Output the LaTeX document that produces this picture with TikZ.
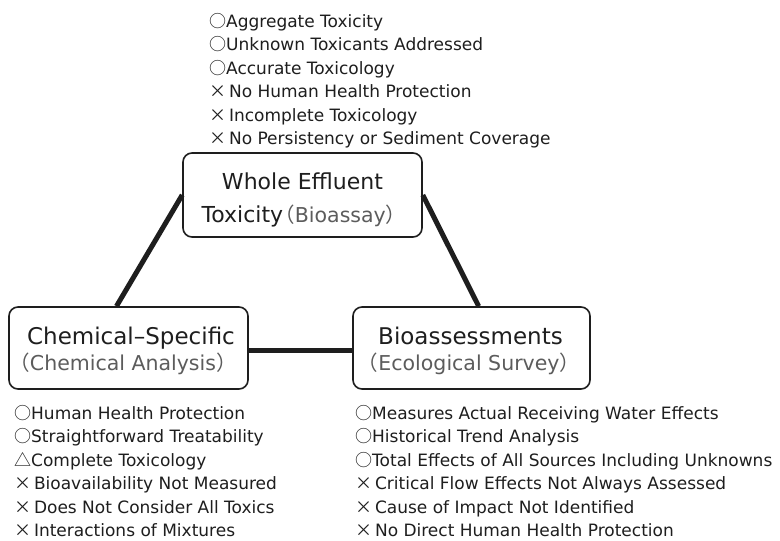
\documentclass[tikz,border=0pt]{standalone}
\usepackage{fontspec}
\setmainfont{DejaVu Sans}
\newfontfamily\cjk{Noto Sans CJK JP}
\usetikzlibrary{calc}
\definecolor{ink}{HTML}{1E1E1E}
\definecolor{subink}{HTML}{5C5C5C}
\newcommand{\markyes}{{\cjk ○}}
\newcommand{\markno}{{\cjk ×}\,}
\newcommand{\markpart}{{\cjk △}}
\newcommand{\lparen}{{\cjk （}}
\newcommand{\rparen}{{\cjk ）}}
\tikzset{
  box/.style={draw=ink, line width=1.6pt, rounded corners=9pt, inner sep=0pt},
  title/.style={anchor=base, inner sep=0pt, text=ink, font=\fontsize{23}{23}\selectfont},
  subtitle/.style={anchor=base, inner sep=0pt, text=subink, font=\fontsize{20.5}{20.5}\selectfont},
  link/.style={draw=ink, line width=5pt},
  item/.style={anchor=base west, inner sep=0pt, text=ink,
    font=\fontsize{17}{17}\selectfont},
}
\begin{document}
\begin{tikzpicture}[x=1pt, y=-1pt]
\useasboundingbox[fill=white] (0,0) rectangle (780,541);

% the three approaches
\node[box, minimum width=239pt, minimum height=84pt] (wet) at (302.5,195) {};
\node[title, font=\fontsize{22}{22}\selectfont] (wet-a) at (302.5,189) {Whole Effluent};
\node[title, font=\fontsize{22}{22}\selectfont] (wet-b) at (304,222)
  {Toxicity\kern-0.4em{\color{subink}\fontsize{20.5}{20.5}\selectfont\lparen Bioassay\rparen}};

\node[box, minimum width=239pt, minimum height=82pt] (chem) at (128.5,348) {};
\node[title] (chem-a) at (131,344) {Chemical–Specific};
\node[subtitle] (chem-b) at (123,370) {\lparen Chemical Analysis\rparen};

\node[box, minimum width=237pt, minimum height=82pt] (bio) at (471.5,348) {};
\node[title] (bio-a) at (470.5,344) {Bioassessments};
\node[subtitle] (bio-b) at (469,370) {\lparen Ecological Survey\rparen};

% links between them
\draw[link] ($(chem.north west)!0.45!(chem.north east)$) -- (wet.west);
\draw[link] (wet.east) -- ($(bio.north west)!0.53!(bio.north east)$);
\draw[link] ($(chem.east)+(0,2)$) -- ($(bio.west)+(0,2)$);

% strengths and weaknesses
\foreach [count=\i] \t in {{\markyes Aggregate Toxicity}, {\markyes Unknown Toxicants Addressed},
  {\markyes Accurate Toxicology}, {\markno No Human Health Protection},
  {\markno Incomplete Toxicology}, {\markno No Persistency or Sediment Coverage}}
  \node[item] (wet\i) at (209,{27.3+23.5*(\i-1)}) {\t};

\foreach [count=\i] \t in {{\markyes Human Health Protection}, {\markyes Straightforward Treatability},
  {\markpart Complete Toxicology}, {\markno Bioavailability Not Measured},
  {\markno Does Not Consider All Toxics}, {\markno Interactions of Mixtures}}
  \node[item] (chem\i) at (14,{419+23.5*(\i-1)}) {\t};

\foreach [count=\i] \t in {{\markyes Measures Actual Receiving Water Effects},
  {\markyes Historical Trend Analysis},
  {\markyes Total Effects of All Sources Including Unknowns},
  {\markno Critical Flow Effects Not Always Assessed},
  {\markno Cause of Impact Not Identified}, {\markno No Direct Human Health Protection}}
  \node[item] (bio\i) at (355,{419+23.5*(\i-1)}) {\t};
\end{tikzpicture}
\end{document}
